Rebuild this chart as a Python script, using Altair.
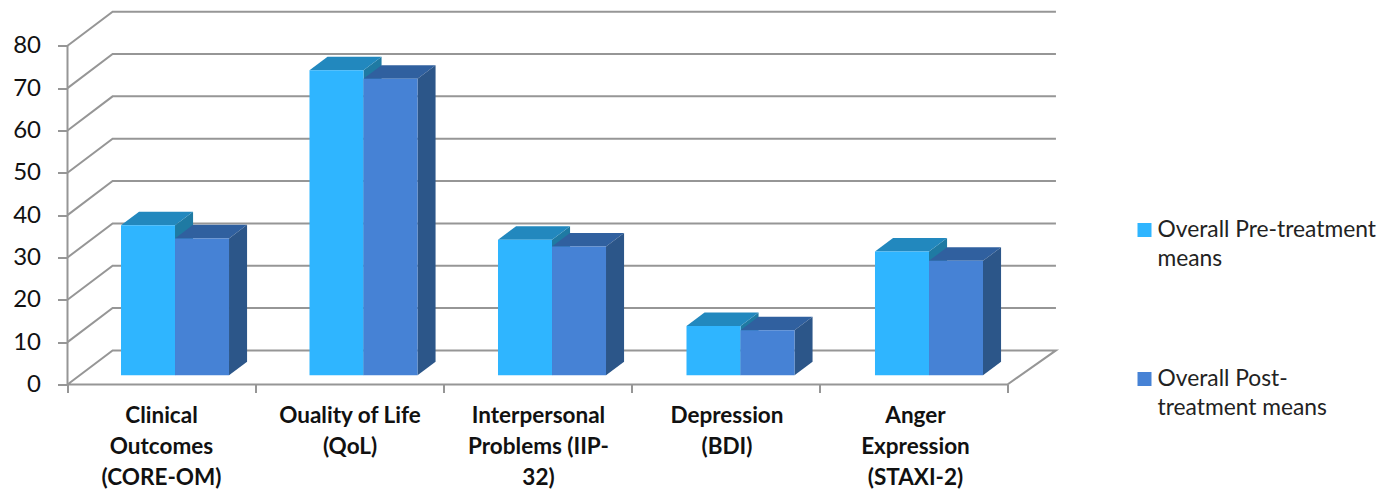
import altair as alt
import pandas as pd

categories = [
    "Clinical\nOutcomes\n(CORE-OM)",
    "Ouality of Life\n(QoL)",
    "Interpersonal\nProblems (IIP-\n32)",
    "Depression\n(BDI)",
    "Anger\nExpression\n(STAXI-2)",
]
pre_means = [35.4, 72.0, 32.0, 11.6, 29.2]
post_means = [32.3, 70.0, 30.4, 10.6, 27.0]
series_names = ["Overall Pre-treatment\nmeans", "Overall Post-\ntreatment means"]

front_colors = ["#2FB5FF", "#4682D5"]
top_colors = ["#2288BE", "#30609F"]
side_colors = ["#1F7AA3", "#2C5689"]
grid_color = "#969696"
font = "Lato"

# Pseudo-3D geometry, expressed in axis units
depth_x, depth_y = 0.24, 8.05
bar_depth_x, bar_depth_y = 0.096, 3.2
bar_lift = 2.2
bar_start, bar_width = 0.2846, 0.2873
group_pitch = 1.0027
wall_end = 5.258
x_max, y_max = 7.027, 88.09

# Wall and floor lines
grid_rows = []
for v in range(0, 90, 10):
    pts = [(0, v), (depth_x, v + depth_y), (wall_end, v + depth_y)]
    if v == 0:
        pts += [(5, 0), (0, 0)]
    for k, (gx, gy) in enumerate(pts):
        grid_rows.append({"line": v, "k": k, "gx": gx, "gy": gy})
grid_df = pd.DataFrame(grid_rows)

# Faces of every column
fronts, tops, sides = [], [], []
for i, values in enumerate(zip(pre_means, post_means)):
    for s, value in enumerate(values):
        left = i * group_pitch + bar_start + s * bar_width
        right = left + bar_width
        top = value + bar_lift
        fronts.append({"x0": left, "x1": right, "y0": bar_lift, "y1": top, "fill": front_colors[s]})
        for t, d in enumerate((0, 1)):
            tops.append({
                "id": f"{i}-{s}", "s": s, "fill": top_colors[s],
                "xa": left + d * bar_depth_x, "xb": right + d * bar_depth_x,
                "yy": top + d * bar_depth_y,
            })
            sides.append({
                "id": f"{i}-{s}", "s": s, "fill": side_colors[s],
                "xx": right + d * bar_depth_x,
                "ya": bar_lift + d * bar_depth_y, "yb": top + d * bar_depth_y,
            })
fronts_df, tops_df, sides_df = map(pd.DataFrame, (fronts, tops, sides))

x_scale = alt.Scale(domain=[0, x_max], nice=False, zero=False)
y_scale = alt.Scale(domain=[0, y_max], nice=False, zero=False)
fill_enc = alt.Color("fill:N", scale=None)

grid = alt.Chart(grid_df).mark_line(color=grid_color, strokeWidth=2, clip=False).encode(
    x=alt.X(
        "gx:Q", scale=x_scale, title=None,
        axis=alt.Axis(
            values=[0, 1, 2, 3, 4, 5], labels=False, domain=False, grid=False,
            tickSize=8, tickColor=grid_color, tickWidth=2,
        ),
    ),
    y=alt.Y(
        "gy:Q", scale=y_scale, title=None,
        axis=alt.Axis(
            values=list(range(0, 90, 10)), grid=False, domain=False,
            tickSize=10, tickColor=grid_color, tickWidth=2,
            labelFont=font, labelFontSize=24, labelColor="#111111", labelPadding=17,
        ),
    ),
    detail="line:N",
    order="k:Q",
)

# Vertical axis line, running from the first to the last tick
axis_df = pd.DataFrame({"gx": [0, 0], "gy": [0, 80]})
axis_line = alt.Chart(axis_df).mark_line(color=grid_color, strokeWidth=2).encode(
    x=alt.X("gx:Q", scale=x_scale), y=alt.Y("gy:Q", scale=y_scale)
)


def side_layer(df):
    return alt.Chart(df).mark_area().encode(
        x=alt.X("xx:Q", scale=x_scale),
        y=alt.Y("yb:Q", scale=y_scale),
        y2="ya:Q",
        color=fill_enc,
        detail="id:N",
    )


def top_layer(df):
    return alt.Chart(df).mark_area(orient="horizontal").encode(
        y=alt.Y("yy:Q", scale=y_scale),
        x=alt.X("xa:Q", scale=x_scale),
        x2="xb:Q",
        color=fill_enc,
        detail="id:N",
    )


front_layer = alt.Chart(fronts_df).mark_rect().encode(
    x=alt.X("x0:Q", scale=x_scale),
    x2="x1:Q",
    y=alt.Y("y0:Q", scale=y_scale),
    y2="y1:Q",
    color=fill_enc,
)

label_df = pd.DataFrame({"label": categories, "pos": [i * group_pitch + 0.5 for i in range(len(categories))]})
cat_labels = alt.Chart(label_df).mark_text(
    font=font, fontSize=22.5, fontWeight="bold", color="#111111",
    lineBreak="\n", lineHeight=31, baseline="middle", align="center",
).encode(
    x=alt.X("pos:Q", scale=x_scale),
    y=alt.value(404),
    text="label:N",
)

legend_df = pd.DataFrame({
    "label": series_names,
    "fill": front_colors,
    "py": [218.5, 367.5],
})
legend_swatch = alt.Chart(legend_df).mark_square(size=196, opacity=1).encode(
    x=alt.value(1077),
    y=alt.Y("py:Q", scale=None),
    color=fill_enc,
)
legend_text = alt.Chart(legend_df).mark_text(
    font=font, fontSize=22.8, color="#222222", align="left", baseline="middle",
    lineBreak="\n", lineHeight=28.5,
).encode(
    x=alt.value(1090),
    y=alt.Y("py:Q", scale=None),
    text="label:N",
)

chart = alt.layer(
    grid,
    axis_line,
    side_layer(sides_df[sides_df.s == 0]),
    top_layer(tops_df[tops_df.s == 0]),
    top_layer(tops_df[tops_df.s == 1]),
    side_layer(sides_df[sides_df.s == 1]),
    front_layer,
    cat_labels,
    legend_swatch,
    legend_text,
).properties(
    width=1321,
    height=373,
    padding={"left": 67.5, "top": 11.5, "right": 0, "bottom": 104.5},
    autosize=alt.AutoSizeParams(type="none"),
    background="#FFFFFF",
).configure_view(stroke=None)

chart.save("out.html", embed_options={"renderer": "svg", "actions": False})
